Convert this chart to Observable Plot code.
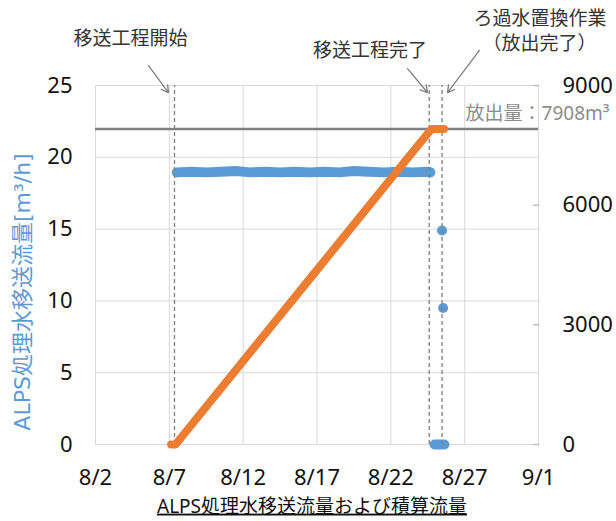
<!DOCTYPE html>
<html><head><meta charset="utf-8">
<script src="https://cdn.jsdelivr.net/npm/d3@7"></script>
<script src="https://cdn.jsdelivr.net/npm/@observablehq/plot@0.6"></script>
<style>body{margin:0;background:#fff} svg{display:block}</style>
</head><body><div id="chart"></div>
<script>
// ---- data (x = day of August) ----
const xTicks = [2, 7, 12, 17, 22, 27, 32];
const xTickLabels = ["8/2", "8/7", "8/12", "8/17", "8/22", "8/27", "9/1"];
const yTicksLeft = [0, 5, 10, 15, 20, 25];
const yTicksRight = [0, 3000, 6000, 9000];

// transfer flow rate [m3/h]
const flowDay  = [7.5, 8.5, 9.5, 10.5, 11.5, 12.5, 13.5, 14.5, 15.5, 16.5, 17.5, 18.5, 19.5, 20.5, 21.5, 22.5, 23.5, 24.5, 24.68];
const flowRate = [18.95, 19.0, 18.95, 19.0, 19.05, 18.95, 19.0, 18.95, 19.0, 18.95, 19.0, 18.95, 19.05, 19.0, 18.95, 19.0, 18.95, 19.0, 18.95];
// flow stopped after transfer
const stopDay  = [24.96, 25.63];
const stopRate = [0, 0];
// filtered-water replacement
const flushDay  = [25.47, 25.54];
const flushRate = [14.9, 9.5];

// cumulative volume [m3]
const cumDay    = [7.12, 7.42, 10, 13, 16, 19, 22, 24.68, 24.78, 25.6];
const cumVolume = [0, 0, 1180, 2550, 3920, 5290, 6660, 7880, 7908, 7908];

const eventDay = [7.35, 24.6, 25.47];
const totalVolume = 7908;
const leftMax = 25, rightMax = 9000;
const k = rightMax / leftMax;

// ---- annotation texts ----
const notes = [
  {text: "移送工程開始", x: 4.37, y: 28.27},
  {text: "移送工程完了", x: 20.59, y: 27.44},
  {text: "ろ過水置換作業", x: 32.10, y: 29.67},
  {text: "（放出完了）", x: 32.07, y: 27.92},
];
const totalNote = [{text: "放出量：" + totalVolume + "m³", x: 27.06, y: 23.05}];
const arrows = [
  {x1: 5.59, y1: 26.39, x2: 6.94, y2: 24.51},
  {x1: 23.13, y1: 26.18, x2: 24.48, y2: 24.51},
  {x1: 28.00, y1: 27.44, x2: 25.84, y2: 24.51},
];
const leftTitle = "ALPS処理水移送流量[m³/h]";
const bottomTitle = "ALPS処理水移送流量および積算流量";

const blue = "#5B9BD5", orange = "#ED7D31", grid = "#d9d9d9", dark = "#7f7f7f";
const font = "'Noto Sans', 'Noto Sans CJK JP', sans-serif";

const flow = flowDay.map((d, i) => ({d, v: flowRate[i]}));
const stop = stopDay.map((d, i) => ({d, v: stopRate[i]}));
const flush = flushDay.map((d, i) => ({d, v: flushRate[i]}));
const cum = cumDay.map((d, i) => ({d, v: cumVolume[i] / k}));

const chart = Plot.plot({
  width: 616, height: 521,
  marginLeft: 95, marginRight: 78, marginTop: 85, marginBottom: 77,
  style: {fontFamily: font, fontSize: "22px", color: "#111", background: "#fff"},
  x: {domain: [xTicks[0], xTicks[xTicks.length - 1]]},
  y: {domain: [0, leftMax]},
  marks: [
    Plot.gridX(xTicks, {stroke: grid, strokeOpacity: 1}),
    Plot.gridY(yTicksLeft, {stroke: grid, strokeOpacity: 1}),
    Plot.vector(yTicksRight, {x: () => xTicks[xTicks.length - 1], y: d => d / k, rotate: -90, length: 5, anchor: "start", stroke: "#bfbfbf",
      shape: {draw(ctx, l) { ctx.moveTo(0, 0); ctx.lineTo(0, -l); }}}),
    Plot.line(flow, {x: "d", y: "v", stroke: blue, strokeWidth: 10, strokeLinecap: "round", strokeLinejoin: "round"}),
    Plot.line(stop, {x: "d", y: "v", stroke: blue, strokeWidth: 10, strokeLinecap: "round"}),
    Plot.dot(flush, {x: "d", y: "v", r: 5, fill: blue}),
    Plot.ruleX(eventDay, {y1: 0, y2: leftMax, stroke: dark, strokeWidth: 1.3, strokeDasharray: "4,3"}),
    Plot.ruleY([totalVolume / k], {stroke: "#808080", strokeWidth: 2.5}),
    Plot.line(cum, {x: "d", y: "v", stroke: orange, strokeWidth: 8, strokeLinecap: "round", strokeLinejoin: "round"}),
    Plot.arrow(arrows, {x1: "x1", y1: "y1", x2: "x2", y2: "y2", stroke: dark, strokeWidth: 1.3, headLength: 9, bend: 0}),
    Plot.text(notes, {x: "x", y: "y", text: "text", fill: "#333", fontSize: 19, fontFamily: "'Noto Sans CJK JP', sans-serif"}),
    Plot.text(totalNote, {x: "x", y: "y", text: "text", textAnchor: "start", fill: "#8c8c8c", fontSize: 19}),
    Plot.axisY(yTicksLeft, {anchor: "left", tickSize: 0, tickPadding: 23, label: null, fontSize: 22}),
    Plot.axisY(yTicksRight.map(v => v / k), {anchor: "right", tickSize: 0, tickPadding: 24, label: null, fontSize: 22,
      tickFormat: d => String(Math.round(d * k))}),
    Plot.axisX(xTicks, {anchor: "bottom", tickSize: 0, tickPadding: 25, label: null, fontSize: 22,
      tickFormat: d => xTickLabels[xTicks.indexOf(d)]}),
    Plot.text([leftTitle], {frameAnchor: "left", textAnchor: "middle", lineAnchor: "middle", rotate: -90, dx: -73, dy: 27,
      fill: blue, fontSize: 22, fontFamily: "'DejaVu Sans', 'Noto Sans CJK JP', sans-serif"}),
    Plot.text([bottomTitle], {frameAnchor: "bottom", textAnchor: "middle", lineAnchor: "middle", dx: -5, dy: 62, fill: "#111", fontSize: 19}),
  ]
});
document.getElementById("chart").appendChild(chart);
d3.select(chart).selectAll("text").filter(function() { return this.textContent === bottomTitle; })
  .attr("text-decoration", "underline").style("text-decoration", "underline");
</script>
</body></html>
